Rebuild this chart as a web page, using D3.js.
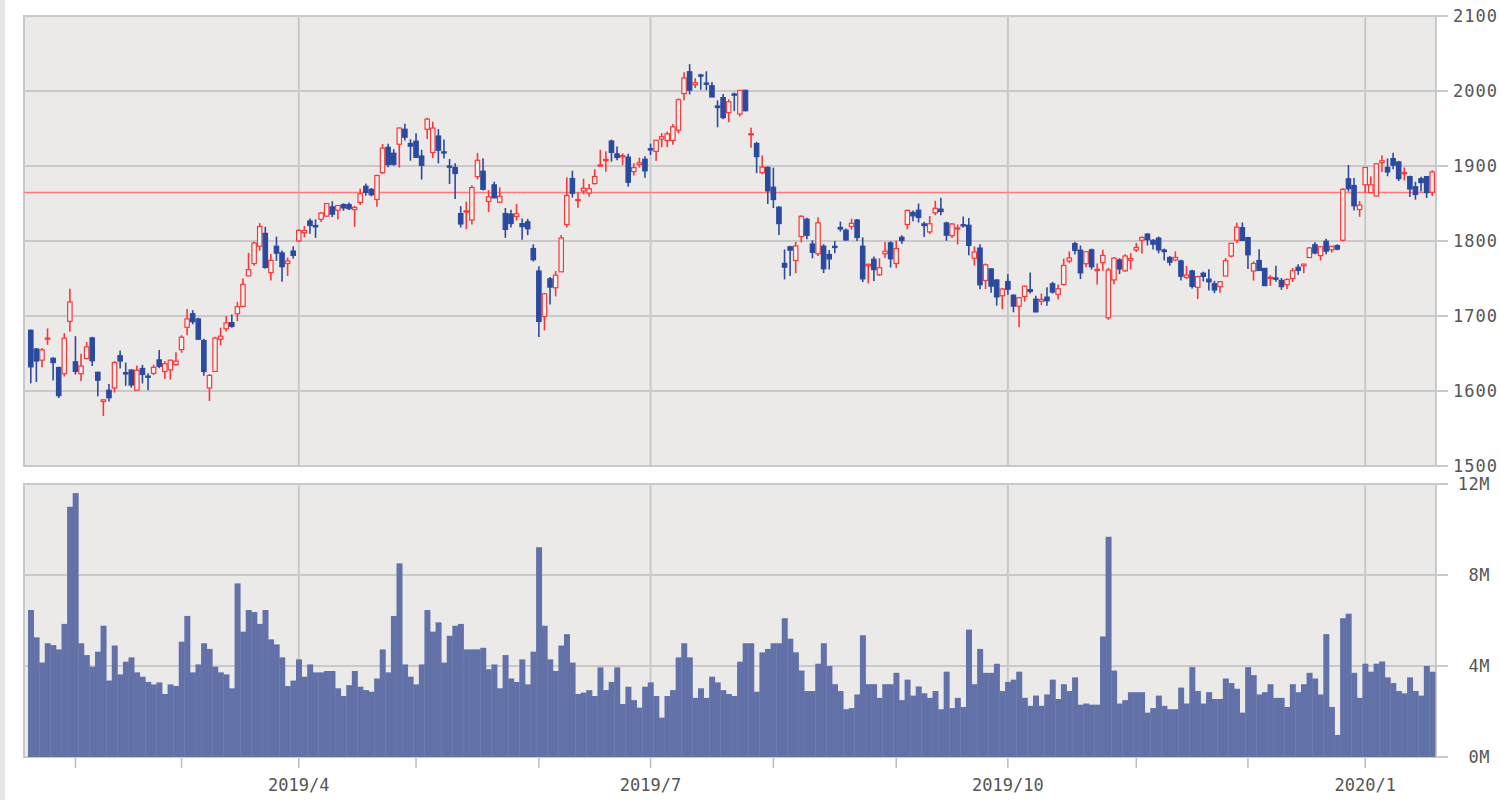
<!DOCTYPE html>
<html><head><meta charset="utf-8">
<script src="https://cdn.jsdelivr.net/npm/d3@7/dist/d3.min.js"></script>
<style>
html,body{margin:0;padding:0;background:#fff;}
svg{display:block;}
</style></head><body>
<svg id="chart" width="1500" height="800"></svg>
<script>
// ---- categories: trading days per month ----
const monthKeys = ["2019/1","2019/2","2019/3","2019/4","2019/5","2019/6","2019/7","2019/8","2019/9","2019/10","2019/11","2019/12","2020/1"];
const monthDays = [
  [22,23,24,25,28,29,30,31],
  [1,4,5,6,7,8,11,12,13,14,15,19,20,21,22,25,26,27,28],
  [1,4,5,6,7,8,11,12,13,14,15,18,19,20,21,22,25,26,27,28,29],
  [1,2,3,4,5,8,9,10,11,12,15,16,17,18,22,23,24,25,26,29,30],
  [1,2,3,6,7,8,9,10,13,14,15,16,17,20,21,22,23,24,28,29,30,31],
  [3,4,5,6,7,10,11,12,13,14,17,18,19,20,21,24,25,26,27,28],
  [1,2,3,5,8,9,10,11,12,15,16,17,18,19,22,23,24,25,26,29,30,31],
  [1,2,5,6,7,8,9,12,13,14,15,16,19,20,21,22,23,26,27,28,29,30],
  [3,4,5,6,9,10,11,12,13,16,17,18,19,20,23,24,25,26,27,30],
  [1,2,3,4,7,8,9,10,11,14,15,16,17,18,21,22,23,24,25,28,29,30,31],
  [1,4,5,6,7,8,11,12,13,14,15,18,19,20,21,22,25,26,27,29],
  [2,3,4,5,6,9,10,11,12,13,16,17,18,19,20,23,24,26,27,30,31],
  [2,3,6,7,8,9,10,13,14,15,16,17,21]
];
// quarter labels shown on the axis
const labelMonths = ["2019/4","2019/7","2019/10","2020/1"];
const priceTicks = [1500,1600,1700,1800,1900,2000,2100];
const volTicks = [0,4,8,12];
const volTickLabels = ["0M","4M","8M","12M"];
const refLine = 1864.7;

// ---- series ----
const opens = [1681.0,1656.0,1641.1,1670.5,1643.6,1631.3,1623.0,1692.9,
1638.9,1623.0,1643.3,1670.8,1625.0,1586.0,1601.0,1604.0,1647.0,1624.5,1627.9,1601.0,1630.0,1619.9,1623.5,1641.5,1626.0,1628.2,1635.3,
1655.1,1685.0,1703.0,1696.0,1667.4,1604.0,1626.1,1669.0,1683.0,1691.2,1703.0,1712.7,1753.5,1769.9,1793.0,1810.2,1757.8,1793.0,1784.1,1770.0,1786.6,
1800.1,1811.0,1826.7,1820.7,1829.0,1833.2,1845.5,1841.0,1848.7,1848.4,1842.0,1851.4,1873.0,1868.8,1855.4,1891.2,1925.0,1917.0,1929.0,1949.0,1930.1,
1933.1,1913.3,1949.0,1918.0,1940.0,1918.9,1900.0,1898.0,1836.6,1839.8,1828.0,1885.9,1893.1,1852.7,1874.8,1851.8,1836.6,1835.9,1832.8,1823.1,1825.5,1790.0,
1760.0,1699.2,1749.6,1737.7,1758.9,1822.0,1883.3,1854.0,1866.7,1864.0,1876.5,1901.4,1907.8,1933.3,1916.1,1912.7,1911.8,1892.5,1902.0,1909.1,
1923.0,1919.4,1935.9,1934.1,1934.1,1947.8,1996.5,2025.6,2008.3,2021.4,2010.6,2007.1,1980.0,1991.2,1971.1,1996.0,1969.3,2001.0,1942.0,1930.0,1891.1,1898.1,
1871.7,1845.1,1770.2,1792.2,1774.0,1806.0,1829.0,1796.0,1783.0,1793.0,1782.0,1792.9,1818.1,1814.5,1819.4,1828.0,1793.0,1766.9,1775.7,1755.0,1783.0,1797.5,
1770.0,1805.0,1822.0,1838.0,1841.0,1822.8,1812.1,1837.6,1842.5,1824.0,1807.1,1817.0,1821.7,1821.0,1777.0,1790.6,1747.4,1762.8,1748.0,1727.0,
1746.0,1727.7,1713.0,1726.0,1735.1,1722.5,1719.6,1725.2,1742.9,1728.9,1742.1,1773.3,1796.5,1787.8,1769.7,1788.2,1761.3,1771.1,1697.6,1748.1,1774.8,1760.2,1774.3,
1788.0,1801.0,1809.2,1801.0,1803.8,1787.9,1778.0,1774.7,1773.4,1751.4,1760.1,1738.3,1757.0,1749.1,1743.0,1739.2,1753.3,1779.9,1801.0,1817.8,
1804.4,1760.0,1774.0,1763.5,1751.2,1750.7,1747.4,1741.7,1750.0,1765.0,1767.0,1778.0,1795.0,1780.5,1799.6,1788.3,1793.8,1801.0,1882.9,1874.0,1842.0,
1875.0,1864.5,1860.0,1904.5,1898.0,1909.9,1905.4,1891.3,1885.9,1872.3,1883.0,1885.9,1865.0];
const highs = [1681.9,1657.4,1657.3,1683.5,1645.0,1632.4,1677.0,1736.4,
1673.1,1649.6,1665.3,1672.3,1625.5,1588.6,1609.3,1640.0,1654.0,1637.9,1628.9,1634.0,1634.9,1623.6,1634.9,1654.6,1640.0,1641.8,1651.8,
1674.3,1709.4,1707.8,1697.8,1669.8,1622.7,1672.3,1684.3,1700.0,1702.0,1718.8,1750.0,1784.2,1799.5,1823.8,1819.0,1782.7,1805.8,1787.5,1777.9,1792.9,
1815.7,1820.0,1830.0,1828.8,1838.6,1850.2,1853.1,1848.0,1850.0,1851.5,1846.9,1869.8,1876.5,1870.8,1888.4,1929.3,1929.7,1922.5,1951.0,1956.3,1935.7,
1943.6,1921.6,1964.4,1959.0,1949.1,1935.4,1909.4,1903.8,1846.5,1852.4,1874.4,1917.5,1910.5,1867.8,1879.0,1871.5,1844.0,1841.8,1849.3,1830.0,1829.5,1795.6,
1766.3,1730.8,1752.0,1760.0,1808.0,1884.9,1893.7,1865.0,1883.1,1876.0,1895.7,1921.7,1919.6,1935.2,1926.0,1916.9,1916.4,1903.8,1911.2,1912.9,
1929.8,1934.8,1943.9,1945.9,1956.0,1990.0,2024.9,2035.8,2017.0,2022.9,2026.3,2012.0,1987.5,1996.0,1989.0,1997.8,2001.3,2001.2,1950.9,1932.2,1914.0,1899.6,
1897.9,1846.4,1788.7,1793.8,1798.9,1834.3,1831.1,1801.0,1831.7,1795.7,1788.0,1800.0,1826.0,1816.8,1829.6,1829.4,1804.9,1770.0,1779.4,1777.0,1798.6,1799.7,
1800.8,1807.6,1842.0,1840.7,1850.0,1825.8,1833.4,1853.7,1857.8,1825.7,1824.0,1822.1,1832.6,1830.6,1792.7,1795.7,1770.0,1763.4,1749.1,1737.5,
1755.6,1728.9,1725.0,1740.6,1757.9,1727.0,1730.0,1738.3,1745.5,1741.9,1776.5,1786.2,1798.9,1794.0,1785.9,1789.8,1770.1,1788.3,1764.2,1778.7,1777.0,1782.4,1783.7,
1797.5,1805.9,1810.3,1802.5,1805.9,1789.9,1780.0,1786.2,1775.0,1766.6,1761.7,1753.7,1759.0,1762.5,1746.9,1746.4,1777.4,1797.0,1824.5,1824.7,
1805.6,1772.9,1789.1,1763.5,1754.4,1766.9,1750.7,1750.0,1764.0,1769.0,1769.5,1792.0,1798.2,1793.0,1803.0,1793.0,1795.6,1870.5,1901.4,1884.0,1853.3,
1898.0,1886.2,1903.7,1913.9,1910.0,1917.8,1906.9,1898.0,1887.1,1878.9,1885.6,1886.6,1894.3];
const lows = [1610.2,1612.0,1631.8,1661.6,1614.1,1590.7,1619.4,1679.1,
1622.0,1613.5,1642.5,1633.3,1592.9,1566.8,1586.0,1598.0,1630.0,1606.9,1604.5,1600.6,1610.1,1600.9,1621.2,1630.4,1616.1,1615.1,1633.8,
1651.0,1674.4,1689.0,1668.3,1620.5,1586.6,1626.0,1661.0,1679.4,1684.3,1693.1,1712.6,1753.5,1767.0,1787.3,1763.1,1747.5,1773.4,1745.7,1753.5,1776.6,
1798.7,1805.1,1809.6,1804.2,1825.2,1832.8,1831.8,1828.8,1840.3,1841.3,1818.9,1848.0,1860.4,1859.5,1845.6,1889.6,1898.2,1900.3,1898.0,1934.1,1907.0,
1910.6,1881.9,1936.0,1910.5,1903.4,1910.0,1876.0,1856.0,1818.0,1815.8,1822.0,1882.3,1867.3,1838.6,1860.0,1851.0,1804.2,1817.9,1827.4,1801.7,1807.8,1772.7,
1672.0,1680.9,1715.3,1726.1,1758.9,1818.0,1858.0,1844.4,1862.2,1859.0,1875.5,1899.8,1892.5,1905.8,1907.7,1901.3,1872.4,1887.3,1898.0,1884.3,
1914.7,1906.6,1925.0,1925.3,1928.3,1943.5,1987.7,1995.3,2003.9,2001.6,2001.2,1992.0,1951.6,1962.2,1958.3,1973.1,1965.9,1972.7,1924.5,1890.5,1889.1,1849.4,
1844.0,1808.0,1748.8,1753.4,1757.0,1798.1,1802.2,1777.0,1780.0,1757.2,1762.0,1783.8,1812.6,1799.9,1815.0,1800.1,1745.2,1743.5,1746.7,1753.5,1777.3,1764.6,
1764.0,1796.2,1815.6,1826.4,1824.6,1805.3,1809.1,1834.3,1834.3,1800.2,1804.1,1795.5,1817.9,1780.9,1767.3,1735.6,1735.9,1731.0,1713.8,1709.2,
1728.4,1705.0,1685.1,1719.2,1730.0,1705.0,1714.4,1713.8,1729.9,1722.0,1740.6,1770.5,1782.0,1749.2,1765.0,1762.0,1742.0,1760.3,1695.0,1742.5,1755.8,1759.1,1762.0,
1785.2,1783.5,1794.0,1788.6,1783.5,1774.0,1767.1,1773.0,1747.3,1749.6,1736.7,1722.7,1746.0,1734.1,1730.4,1731.0,1753.2,1778.4,1797.3,1800.8,
1762.7,1747.2,1760.2,1740.0,1740.1,1745.6,1735.0,1735.7,1745.4,1755.0,1757.1,1777.4,1782.4,1774.1,1782.5,1784.5,1787.6,1799.5,1866.0,1840.6,1832.2,
1864.2,1864.5,1860.0,1892.0,1886.4,1895.8,1880.0,1880.8,1858.6,1855.1,1866.0,1857.3,1860.0];
const closes = [1632.2,1640.0,1654.9,1670.6,1637.9,1593.9,1670.4,1718.7,
1626.2,1633.3,1658.8,1640.3,1614.4,1588.2,1591.0,1638.0,1640.0,1622.7,1608.0,1627.6,1622.1,1619.4,1631.6,1633.0,1636.4,1641.1,1639.8,
1671.7,1696.2,1692.4,1669.0,1626.0,1620.8,1670.6,1673.1,1690.8,1686.2,1712.4,1742.2,1761.9,1797.3,1819.3,1764.8,1774.3,1783.8,1765.7,1773.4,1780.8,
1814.2,1814.0,1820.7,1818.9,1837.3,1849.9,1835.8,1847.3,1844.1,1843.1,1844.9,1863.0,1864.8,1861.7,1887.3,1923.8,1901.8,1902.3,1950.6,1938.4,1926.5,
1911.5,1900.8,1962.5,1950.6,1921.0,1917.8,1899.9,1890.0,1822.7,1840.1,1871.2,1907.6,1869.0,1859.0,1857.5,1859.7,1815.5,1823.3,1836.4,1819.2,1816.3,1775.1,
1692.7,1729.6,1738.5,1754.4,1804.0,1860.6,1863.7,1855.3,1870.3,1869.7,1886.0,1901.4,1908.8,1918.2,1911.3,1913.9,1878.3,1897.8,1904.3,1893.6,
1922.2,1934.3,1939.0,1942.9,1952.3,1988.3,2017.4,2001.1,2011.0,2021.0,2009.9,1992.0,1977.9,1964.5,1985.6,1994.5,2000.8,1973.8,1943.1,1912.5,1898.5,1866.8,
1855.3,1823.2,1765.1,1787.8,1793.4,1832.9,1807.6,1784.9,1824.3,1763.0,1776.1,1792.6,1816.1,1801.4,1823.5,1804.7,1749.6,1768.9,1761.8,1764.3,1786.4,1776.3,
1789.8,1800.6,1840.7,1833.5,1831.4,1820.6,1823.0,1843.6,1839.3,1807.8,1822.6,1817.5,1821.5,1794.2,1785.3,1741.6,1768.3,1739.8,1725.5,1735.9,
1735.7,1713.2,1724.4,1739.7,1732.7,1705.5,1722.0,1720.3,1731.9,1736.4,1767.4,1777.4,1787.5,1757.5,1785.7,1765.7,1762.2,1780.8,1761.3,1777.1,1762.7,1780.0,1776.7,
1791.4,1804.7,1801.7,1795.8,1788.2,1785.9,1771.7,1778.0,1753.1,1754.6,1739.5,1752.5,1752.8,1745.5,1734.7,1745.7,1773.8,1796.9,1818.5,1800.8,
1781.6,1770.0,1760.7,1740.5,1751.6,1749.5,1739.2,1748.7,1760.3,1760.9,1769.2,1790.7,1784.0,1792.3,1786.5,1793.0,1789.2,1868.8,1869.8,1846.9,1847.8,
1898.0,1875.0,1902.9,1906.9,1892.0,1901.1,1883.2,1891.3,1869.4,1862.0,1877.9,1864.7,1892.0];
// volume, millions of shares
const volumes = [6.46,5.26,4.15,5.0,4.92,4.73,5.85,11.0,11.6,5.0,
4.48,3.97,4.63,5.77,3.36,4.9,3.63,4.19,4.38,3.72,
3.53,3.30,3.19,3.28,2.77,3.19,3.12,5.07,6.2,3.72,
4.07,5.0,4.75,3.97,3.72,3.63,3.02,7.63,5.51,6.46,
6.37,5.85,6.46,5.17,4.95,4.38,3.12,3.36,4.29,3.53,
4.07,3.72,3.72,3.78,3.78,3.02,2.68,3.16,3.78,3.09,
2.94,2.87,3.45,4.73,3.72,6.2,8.51,4.07,3.53,3.19,
4.07,6.46,5.51,5.92,4.15,5.33,5.77,5.85,4.73,4.73,
4.73,4.8,3.86,4.07,3.02,4.48,3.45,3.30,4.29,3.19,
4.63,9.22,5.77,4.29,3.78,4.9,5.4,4.15,2.77,2.83,
2.94,2.68,3.94,2.94,3.30,3.94,2.33,3.09,2.5,2.17,
3.09,3.28,2.68,1.73,2.68,2.94,4.38,5.0,4.38,2.6,
3.02,2.6,3.53,3.28,2.94,2.77,2.68,4.19,5.0,5.0,
2.87,4.6,4.75,5.0,5.0,6.1,5.2,4.6,3.8,2.9,
2.9,4.1,5.0,4.0,3.2,2.9,2.1,2.15,2.75,5.35,
3.2,3.2,2.6,3.2,3.2,3.7,2.5,3.4,2.7,3.1,
2.8,2.6,2.9,2.1,3.75,2.15,2.6,2.2,5.6,3.2,
4.75,3.7,3.7,4.1,2.9,3.3,3.4,3.75,2.6,2.25,
2.7,2.25,2.75,3.4,2.55,3.2,2.9,3.5,2.3,2.35,
2.3,2.3,5.3,9.68,3.8,2.35,2.5,2.85,2.85,2.85,
1.95,2.15,2.7,2.25,2.1,2.1,3.05,2.35,3.95,2.9,
2.35,2.85,2.55,2.55,3.45,3.25,3.0,1.95,3.95,3.6,
2.75,2.85,3.2,2.6,2.6,2.2,3.2,2.85,3.2,3.7,
3.45,2.75,5.4,2.2,0.97,6.1,6.3,3.7,2.6,4.1,
3.75,4.1,4.2,3.5,3.25,2.9,2.8,3.5,2.9,2.7,4.0,3.75];

// ---- build rows ----
const dates = [];
const monthStart = [];
monthKeys.forEach((m, mi) => {
  monthDays[mi].forEach((d, di) => {
    if (di === 0 && mi > 0) monthStart.push({key: m, idx: dates.length});
    dates.push(m + "/" + d);
  });
});
const N = dates.length;
const data = d3.range(N).map(i => ({i, o: opens[i], h: highs[i], l: lows[i], c: closes[i], v: volumes[i]}));

// ---- layout ----
const L = 24, R = 1436;
const pTop = 16, pBot = 466, vTop = 484, vBot = 757;
const COL = {bg:"#ECEAE8", grid:"#C9C9C9", up:"#FF3535", down:"#2B4A9F", vol:"#6272A8", text:"#555", ref:"#FF7A7A"};

const svg = d3.select("#chart");
const x = d3.scaleBand().domain(d3.range(N)).range([28, 1435]).padding(0);
const yP = d3.scaleLinear().domain([1500, 2100]).range([pBot, pTop]);
const yV = d3.scaleLinear().domain([0, 12]).range([vBot, vTop]);
const bw = x.bandwidth();
const cx = i => x(i) + bw / 2;

svg.append("rect").attr("x",0).attr("y",0).attr("width",5).attr("height",800).attr("fill","#E6E6E8");

// panels
[[pTop,pBot],[vTop,vBot]].forEach(([t,b]) => {
  svg.append("rect").attr("x",L).attr("y",t).attr("width",R-L).attr("height",b-t).attr("fill",COL.bg);
});

// horizontal grid + tick marks
svg.append("g").selectAll("line").data(priceTicks).join("line")
  .attr("x1",L).attr("x2",1448).attr("y1",d=>yP(d)).attr("y2",d=>yP(d))
  .attr("stroke",COL.grid).attr("stroke-width",2);
svg.append("g").selectAll("line").data(volTicks).join("line")
  .attr("x1",L).attr("x2",1448).attr("y1",d=>yV(d)).attr("y2",d=>yV(d))
  .attr("stroke",COL.grid).attr("stroke-width",2);

// vertical quarter gridlines
const qTicks = monthStart.filter(m => labelMonths.includes(m.key));
qTicks.forEach(m => {
  [[pTop,pBot],[vTop,vBot]].forEach(([t,b]) => {
    svg.append("line").attr("x1",cx(m.idx)).attr("x2",cx(m.idx)).attr("y1",t).attr("y2",b)
      .attr("stroke",COL.grid).attr("stroke-width",2);
  });
});
// month tick marks under volume panel
svg.append("g").selectAll("line").data(monthStart).join("line")
  .attr("x1",d=>cx(d.idx)).attr("x2",d=>cx(d.idx)).attr("y1",vBot).attr("y2",768)
  .attr("stroke","#BDBDBD").attr("stroke-width",1.5);

// panel borders
[[pTop,pBot],[vTop,vBot]].forEach(([t,b]) => {
  svg.append("rect").attr("x",L).attr("y",t).attr("width",R-L).attr("height",b-t)
    .attr("fill","none").attr("stroke",COL.grid).attr("stroke-width",2);
});

// volume bars
svg.append("g").selectAll("rect").data(data).join("rect")
  .attr("x",d=>x(d.i)).attr("width",bw+0.4)
  .attr("y",d=>yV(d.v)).attr("height",d=>vBot-yV(d.v))
  .attr("fill",COL.vol);

// reference line
svg.append("line").attr("x1",L).attr("x2",R).attr("y1",yP(refLine)).attr("y2",yP(refLine))
  .attr("stroke",COL.ref).attr("stroke-width",1.5);

// candles
const gC = svg.append("g");
const isUp = d => d.c >= d.o;
gC.selectAll("line").data(data).join("line")
  .attr("x1",d=>cx(d.i)).attr("x2",d=>cx(d.i))
  .attr("y1",d=>yP(d.h)).attr("y2",d=>yP(d.l))
  .attr("stroke",d=>isUp(d)?COL.up:COL.down).attr("stroke-width",1.6);
const bodyW = 4.4;
gC.selectAll("rect").data(data).join("rect")
  .attr("x",d=>cx(d.i)-bodyW/2).attr("width",bodyW)
  .attr("y",d=>yP(Math.max(d.o,d.c)))
  .attr("height",d=>Math.max(1.2, Math.abs(yP(d.o)-yP(d.c))))
  .attr("fill",d=>isUp(d)?"#F4F2F0":COL.down)
  .attr("stroke",d=>isUp(d)?COL.up:COL.down).attr("stroke-width",1.2);

// axis labels
const font = "'DejaVu Sans Mono', monospace";
svg.append("g").selectAll("text").data(priceTicks).join("text")
  .attr("x",1453).attr("y",d=>yP(d)).attr("dy","0.36em")
  .attr("font-family",font).attr("font-size",17).attr("letter-spacing",1)
  .attr("fill",COL.text).text(d=>d);
svg.append("g").selectAll("text").data(volTicks).join("text")
  .attr("x",1490).attr("y",d=>yV(d)).attr("dy","0.36em").attr("text-anchor","end")
  .attr("font-family",font).attr("font-size",17).attr("letter-spacing",0.5)
  .attr("fill",COL.text).text((d,i)=>volTickLabels[i]);
svg.append("g").selectAll("text").data(qTicks).join("text")
  .attr("x",d=>cx(d.idx)).attr("y",785).attr("dy","0.36em").attr("text-anchor","middle")
  .attr("font-family",font).attr("font-size",17)
  .attr("fill",COL.text).text(d=>d.key);
</script>
</body></html>
